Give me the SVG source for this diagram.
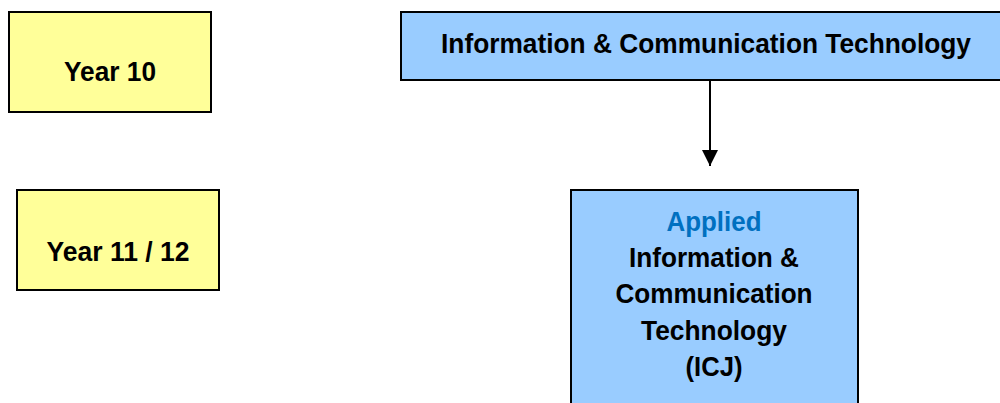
<svg xmlns="http://www.w3.org/2000/svg" width="1000" height="403" viewBox="0 0 1000 403">
<defs>
<style>
.yr{fill:#ffff99;stroke:#000;stroke-width:2}
.bl{fill:#99ccff;stroke:#000;stroke-width:2}
text{font-family:"Liberation Sans",Arial,sans-serif;font-weight:bold;font-size:28px;fill:#000;text-anchor:middle}
.ap{fill:#0070c0}
</style>
<marker id="ah" markerWidth="16" markerHeight="16" refX="16" refY="8" orient="auto" markerUnits="userSpaceOnUse">
<path d="M0,0 L16,8 L0,16 Z" fill="#000"/>
</marker>
</defs>
<g id="year10">
<rect class="yr" x="9" y="12" width="202" height="100"/>
<text x="110" y="81" textLength="92" lengthAdjust="spacingAndGlyphs">Year 10</text>
</g>
<g id="year1112">
<rect class="yr" x="17" y="190" width="202" height="100"/>
<text x="118" y="261" textLength="143" lengthAdjust="spacingAndGlyphs">Year 11 / 12</text>
</g>
<g id="ict">
<rect class="bl" x="401" y="12" width="600" height="68"/>
<text transform="translate(706,53) scale(0.94,1)" x="0" y="0">Information &amp; Communication Technology</text>
</g>
<g id="applied">
<rect class="bl" x="571" y="190" width="287" height="214"/>
<text class="ap" x="714" y="231" textLength="95" lengthAdjust="spacingAndGlyphs">Applied</text>
<text x="714" y="267" textLength="170" lengthAdjust="spacingAndGlyphs">Information &amp;</text>
<text x="714" y="303" textLength="197" lengthAdjust="spacingAndGlyphs">Communication</text>
<text x="714" y="340" textLength="146" lengthAdjust="spacingAndGlyphs">Technology</text>
<text x="714" y="376" textLength="57" lengthAdjust="spacingAndGlyphs">(ICJ)</text>
</g>
<g id="connectors">
<line x1="710" y1="80" x2="710" y2="166" stroke="#000" stroke-width="2" marker-end="url(#ah)"/>
</g>
</svg>
